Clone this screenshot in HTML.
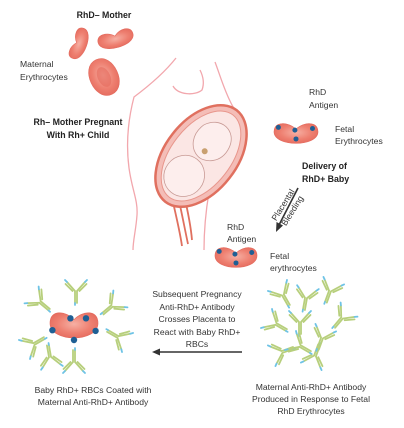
<!DOCTYPE html>
<html><head><meta charset="utf-8"><style>
html,body{margin:0;padding:0;background:#fff;}
svg{display:block;font-family:"Liberation Sans",sans-serif;}
.t{font-size:8.6px;fill:#333;}
.b{font-size:8.8px;font-weight:bold;fill:#222;}
</style></head><body>
<svg id="fig" width="404" height="428" viewBox="0 0 404 428" xmlns="http://www.w3.org/2000/svg">
<defs>
<radialGradient id="rbc" cx="50%" cy="45%" r="60%"><stop offset="0" stop-color="#f6b0a4"/><stop offset="0.6" stop-color="#ee7f70"/><stop offset="1" stop-color="#e46a5d"/></radialGradient>
<symbol id="ab" viewBox="-12 -14 24 28" overflow="visible">
<g stroke="#b7cf7c" stroke-width="1.8" fill="none" stroke-linecap="round">
<path d="M-1 12 L-1 0 L-9 -9 M1 12 L1 0 L9 -9 M-3.5 0 L-10.5 -7 M3.5 0 L10.5 -7"/>
</g>
<g stroke="#6ec3e6" stroke-width="1.8" stroke-linecap="round"><path d="M-9 -9 L-11 -11 M9 -9 L11 -11 M-1 12 L-1 14"/></g>
</symbol>
</defs>

<!-- mother silhouette -->
<g fill="none" stroke="#f2a7ad" stroke-width="1.3">
<path d="M176 58 C165 72 150 85 134 97 C128 120 126 145 129 168 C132 190 138 200 137 215 C136 230 133 240 133 250"/>
<path d="M173 86 C178 95 195 96 202 90 C205 82 202 74 200 70"/>
<path d="M215 62 C220 75 224 90 232 105 C240 118 245 130 245 140"/>
<path d="M209 192 C206 210 204 230 204 250"/>
</g>
<!-- uterus -->
<g>
<path d="M172 198 C176 215 180 232 182 246 M178 196 C182 214 185 230 188 244 M184 195 C188 212 191 228 192 240" stroke="#e0705f" stroke-width="1.8" fill="none"/>
<g transform="rotate(38 201 156)">
<ellipse cx="201" cy="156" rx="36" ry="58" fill="#f4bdb7" stroke="#e0705f" stroke-width="2.5"/>
<ellipse cx="201" cy="156" rx="30" ry="52" fill="#fbe6e4" stroke="#e8968c" stroke-width="1"/>
<ellipse cx="200" cy="182" rx="20" ry="21" fill="#fdeeed" stroke="#c89a95" stroke-width="0.8"/>
<path d="M184 130 C192 112 214 114 218 132 C222 150 207 160 198 158 C188 156 180 145 184 130Z" fill="#fdeeed" stroke="#c89a95" stroke-width="0.8"/>
<circle cx="201" cy="150" r="3" fill="#c9a070"/>
</g>
</g>

<text class="b" x="104" y="18" text-anchor="middle">RhD– Mother</text>
<text class="t" x="20" y="67"><tspan x="20">Maternal</tspan><tspan x="20" dy="13">Erythrocytes</tspan></text>
<text class="b" x="78" y="125" text-anchor="middle"><tspan x="78">Rh– Mother Pregnant</tspan><tspan x="78" dy="13">With Rh+ Child</tspan></text>

<text class="t" x="309" y="95"><tspan x="309">RhD</tspan><tspan x="309" dy="13">Antigen</tspan></text>
<text class="t" x="335" y="132"><tspan x="335">Fetal</tspan><tspan x="335" dy="12">Erythrocytes</tspan></text>
<text class="b" x="302" y="169"><tspan x="302">Delivery of</tspan><tspan x="302" dy="13">RhD+ Baby</tspan></text>

<text class="t" x="227" y="230"><tspan x="227">RhD</tspan><tspan x="227" dy="12">Antigen</tspan></text>
<text class="t" x="270" y="259"><tspan x="270">Fetal</tspan><tspan x="270" dy="12">erythrocytes</tspan></text>

<text class="t" x="197" y="297" text-anchor="middle"><tspan x="197">Subsequent Pregnancy</tspan><tspan x="197" dy="13">Anti-RhD+ Antibody</tspan><tspan x="197" dy="12">Crosses Placenta to</tspan><tspan x="197" dy="13">React with Baby RhD+</tspan><tspan x="197" dy="12">RBCs</tspan></text>

<g>
<line x1="242" y1="352" x2="158" y2="352" stroke="#333" stroke-width="1.5"/>
<path d="M152 352 L160 348.5 L160 355.5Z" fill="#333"/>
</g>

<text class="t" x="93" y="393" text-anchor="middle"><tspan x="93">Baby RhD+ RBCs Coated with</tspan><tspan x="93" dy="12">Maternal Anti-RhD+ Antibody</tspan></text>
<text class="t" x="311" y="390" text-anchor="middle"><tspan x="311">Maternal Anti-RhD+ Antibody</tspan><tspan x="311" dy="12">Produced in Response to Fetal</tspan><tspan x="311" dy="12">RhD Erythrocytes</tspan></text>

<g id="cells"></g>
<g id="abs"></g>
<g id="bleed"></g>
</svg>
<script>
// cells: [cx, cy, halfWidth, halfHeight, rotation, antigenCount]
const cellCenters=[[80,44,16,8,-70,0],[116,40,18,9,-15,0],[104,77,14,19,-25,0],[296,134,22,11,0,4],[236,258,21,11,0,4],[74,326,24,14,0,5]];
// antibodies: [x, y, rotation]
const antibodies=[[40,302,-50],[76,291,0],[34,344,-120],[50,357,170],[112,306,50],[118,337,120],[74,362,180],[283,295,-30],[306,298,10],[330,291,20],[276,324,-60],[300,322,0],[342,318,40],[282,352,-110],[315,356,200],[322,338,20],[300,346,-60]];
const bleedLabel=["Placental","Bleeding"];
const NS="http://www.w3.org/2000/svg";
const cg=document.getElementById('cells');
cellCenters.forEach((c)=>{
  const g=document.createElementNS(NS,'g');
  
  
  g.setAttribute('transform',`translate(${c[0]} ${c[1]}) rotate(${c[4]})`);
  const e=document.createElementNS(NS,'path');
  const rx=c[2],ry=c[3];
  let d;
  if(rx>ry){d=`M${-rx} ${-ry*0.2} C${-rx} ${-ry*1.2} ${-rx*0.35} ${-ry*1.1} 0 ${-ry*0.45} C${rx*0.35} ${-ry*1.1} ${rx} ${-ry*1.2} ${rx} ${-ry*0.2} C${rx} ${ry*1.2} ${-rx} ${ry*1.2} ${-rx} ${-ry*0.2}Z`;}
  else{d=`M0 ${-ry} C${rx*1.35} ${-ry} ${rx*1.35} ${ry} 0 ${ry} C${-rx*1.35} ${ry} ${-rx*1.35} ${-ry} 0 ${-ry}Z`;}
  e.setAttribute('d',d);e.setAttribute('fill','url(#rbc)');e.setAttribute('stroke','#e46a5d');e.setAttribute('stroke-width','0.6');
  g.appendChild(e);
  if(c[5]===0&&rx<ry){
    const inner=document.createElementNS(NS,'ellipse');
    
    
    inner.setAttribute('rx',rx*0.45);inner.setAttribute('ry',ry*0.55);inner.setAttribute('fill','#e56b5e');inner.setAttribute('opacity','0.6');
    g.appendChild(inner);
  }
  const n=c[5];
  const pts=n===4?[[-0.8,-0.6],[-0.05,-0.35],[0.75,-0.5],[0,0.45]]:[[-0.9,0.3],[-0.15,-0.55],[0.9,0.35],[0,1.0],[0.5,-0.55]];
  for(let k=0;k<n;k++){
    const p=document.createElementNS(NS,'circle');
    
    
    p.setAttribute('cx',pts[k][0]*rx);p.setAttribute('cy',pts[k][1]*ry);p.setAttribute('r',n===5?3.2:2.5);p.setAttribute('fill','#1f5f94');
    g.appendChild(p);
  }
  cg.appendChild(g);
});
const ag=document.getElementById('abs');
antibodies.forEach(a=>{
  const u=document.createElementNS(NS,'use');
  
  
  u.setAttribute('href','#ab');u.setAttribute('x',a[0]-12);u.setAttribute('y',a[1]-14);u.setAttribute('width',24);u.setAttribute('height',28);
  u.setAttribute('transform',`rotate(${a[2]} ${a[0]} ${a[1]})`);
  ag.appendChild(u);
});
const bg=document.getElementById('bleed');


bg.innerHTML=`<line x1="298" y1="188" x2="279" y2="225" stroke="#333" stroke-width="1.6"/><path d="M276 232 L276.5 222 L283 225.5Z" fill="#333"/>
<text class="t" font-size="7.5" transform="translate(288 208) rotate(-58)" text-anchor="middle"><tspan x="0" y="-3">${bleedLabel[0]}</tspan><tspan x="0" y="8">${bleedLabel[1]}</tspan></text>`;
</script>
</body></html>
